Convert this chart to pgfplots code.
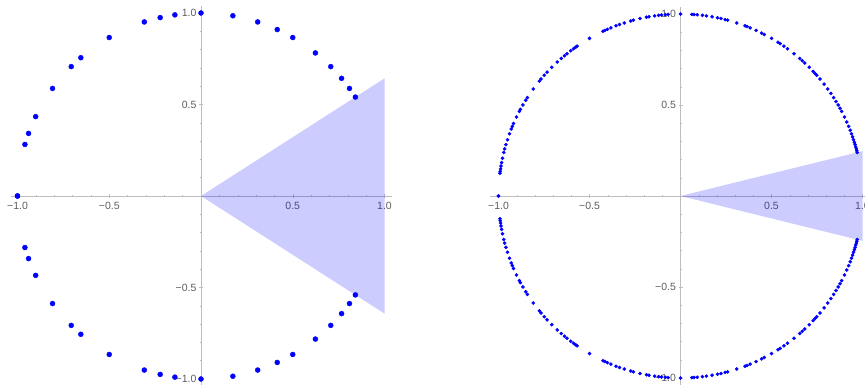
\documentclass[border=0pt]{standalone}
\usepackage{fontspec}
\setmainfont{Liberation Sans}
\usepackage{pgfplots}
\usepackage{pgfplotstable}
\pgfplotsset{compat=1.18}
\definecolor{axgray}{HTML}{BDBDBD}
\definecolor{lblgray}{HTML}{5E5E5E}
\definecolor{ptblue}{HTML}{0000FF}

% angles (deg) of the points k/n, n <= 11, upper half
\pgfplotstableread{
a r
32.727 1
36 1
40 1
45 1
51.429 1
60 1
65.455 1
72 1
80 1
90 1
98.182 1
102.857 1
108 1
120 1
130.909 1
135 1
144 1
154.286 1
160 1
163.636 1
180 1
}\leftpts

% angles (deg) of the points k/n, n <= 26, upper half
\pgfplotstableread{
a r
180 1
120 1
90 1
72 1
144 1
60 1
51.429 1
102.857 1
154.286 1
45 1
135 1
40 1
80 1
160 1
36 1
108 1
32.727 1
65.455 1
98.182 1
130.909 1
163.636 1
30 1
150 1
27.692 1
55.385 1
83.077 1
110.769 1
138.462 1
166.154 1
25.714 1
77.143 1
128.571 1
24 1
48 1
96 1
168 1
22.5 1
67.5 1
112.5 1
157.5 1
21.176 1
42.353 1
63.529 1
84.706 1
105.882 1
127.059 1
148.235 1
169.412 1
20 1
100 1
140 1
18.947 1
37.895 1
56.842 1
75.789 1
94.737 1
113.684 1
132.632 1
151.579 1
170.526 1
18 1
54 1
126 1
162 1
17.143 1
34.286 1
68.571 1
85.714 1
137.143 1
171.429 1
16.364 1
49.091 1
81.818 1
114.545 1
147.273 1
15.652 1
31.304 1
46.957 1
62.609 1
78.261 1
93.913 1
109.565 1
125.217 1
140.870 1
156.522 1
172.174 1
15 1
75 1
105 1
165 1
14.4 1
28.8 1
43.2 1
57.6 1
86.4 1
100.8 1
115.2 1
129.6 1
158.4 1
172.8 1
13.846 1
41.538 1
69.231 1
96.923 1
124.615 1
152.308 1
}\rightpts

\pgfplotsset{
  circ/.style={
    scale only axis, clip=false, anchor=origin,
    axis lines=middle,
    axis line style={-, draw=axgray, line width=0.6pt},
    xtick={-1,-0.5,0.5,1}, xticklabels={−1.0,−0.5,0.5,1.0},
    ytick={-1,-0.5,0.5,1}, yticklabels={−1.0,−0.5,0.5,1.0},
    minor xtick={-1,-0.9,...,1}, minor ytick={-1,-0.9,...,1},
    major tick length=4pt, minor tick length=2pt,
    every tick/.style={draw=axgray, line width=0.5pt},
    every minor tick/.style={draw=axgray, line width=0.4pt},
    tick label style={font=\fontsize{10.5}{12}\selectfont, text=lblgray},
    xticklabel style={yshift=-1pt},
    yticklabel style={xshift=1pt},
  },
}

\begin{document}
\begin{tikzpicture}
\useasboundingbox (0,0) rectangle (865pt,385pt);
\clip (0,0) rectangle (865pt,385pt);

\begin{axis}[circ, at={(201pt,189pt)},
  xmin=-1.035, xmax=1.04, ymin=-1.06, ymax=1.04,
  width=380.8pt, height=384.3pt]
  \addplot[draw=none, fill=blue, fill opacity=0.2]
    coordinates {(0,0) (1,0.6426) (1,-0.6426)} -- cycle;
  \addplot[only marks, mark=*, mark size=2.5pt, color=ptblue, data cs=polar]
    table[x=a, y=r] {\leftpts};
  \addplot[only marks, mark=*, mark size=2.5pt, color=ptblue, data cs=polar]
    table[x expr=-\thisrow{a}, y=r] {\leftpts};
\end{axis}

\begin{axis}[circ, at={(680.5pt,189pt)},
  xmin=-1.047, xmax=1.02, ymin=-1.06, ymax=1.04,
  width=376.2pt, height=382.2pt]
  \addplot[draw=none, fill=blue, fill opacity=0.2]
    coordinates {(0,0) (1,0.2465) (1,-0.2465)} -- cycle;
  \addplot[only marks, mark=*, mark size=1.6pt, color=ptblue, data cs=polar]
    table[x=a, y=r] {\rightpts};
  \addplot[only marks, mark=*, mark size=1.6pt, color=ptblue, data cs=polar]
    table[x expr=-\thisrow{a}, y=r] {\rightpts};
\end{axis}
\end{tikzpicture}
\end{document}
